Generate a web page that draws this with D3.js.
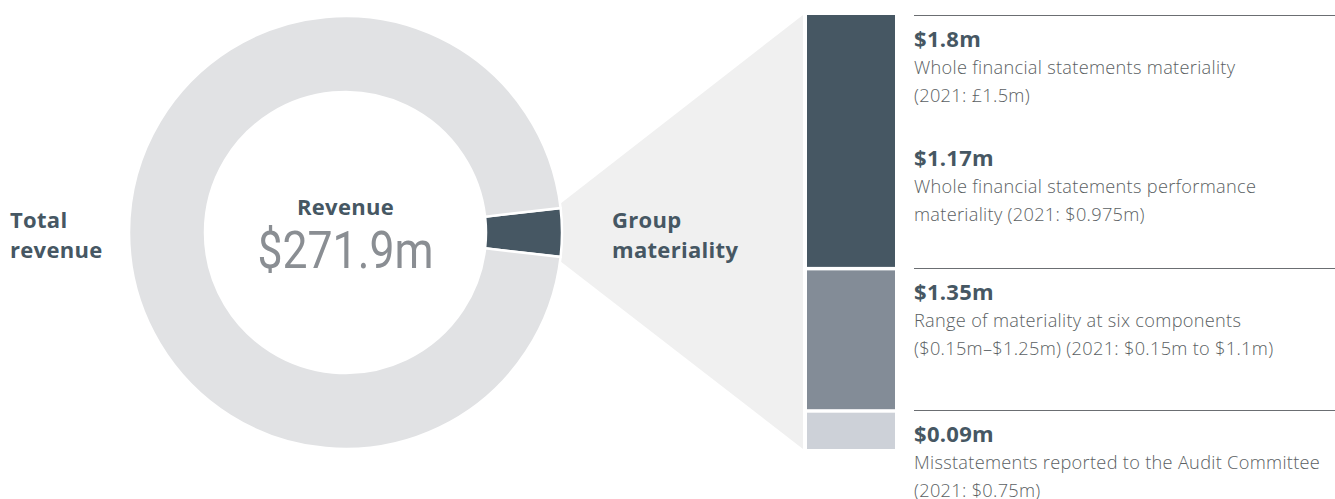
<!DOCTYPE html>
<html>
<head>
<meta charset="utf-8">
<script src="https://cdn.jsdelivr.net/npm/d3@7"></script>
<style>
  body { margin: 0; background: #fff; }
  svg { display: block; }
  .bold { font-family: "Open Sans", sans-serif; font-weight: 700; fill: #465763; letter-spacing: 0.3px; }
  .desc { font-family: "Open Sans", sans-serif; font-weight: 300; fill: #5b5f63; letter-spacing: 0.3px; }
  .big { font-family: "Roboto", sans-serif; font-weight: 400; fill: #8a8e93; }
</style>
</head>
<body>
<div id="chart"></div>
<script>
// ring: share of the circle drawn for each part
const ringParts = ['Group materiality', 'Rest of revenue'];
const ringShares = [3.6, 96.4];
const ringColors = ['#465763', '#e1e2e4'];

// stacked column on the right (heights as drawn)
const barParts = ['Group materiality', 'Component materiality', 'Misstatements'];
const barShares = [1.8, 1.01, 0.27];
const barColors = ['#465763', '#838c97', '#cdd1d8'];

const blockValues = ['$1.8m', '$1.17m', '$1.35m', '$0.09m'];
const blockLines = [
    ['Whole financial statements materiality', '(2021: £1.5m)'],
    ['Whole financial statements performance', 'materiality (2021: $0.975m)'],
    ['Range of materiality at six components', '($0.15m\u2013$1.25m) (2021: $0.15m to $1.1m)'],
    ['Misstatements reported to the Audit Committee', '(2021: $0.75m)']
];
// which bar top each block hangs from (block 2 has no rule of its own)
const blockBar = [0, null, 1, 2];

const W = 1335, H = 499;
const cx = 345.5, cy = 232.5, outerR = 216.5, innerR = 140.5;
const barX = 807, barW = 88, barTop = 15, barBottom = 449, barGap = 3.5;
const textX = 914;

const svg = d3.select('#chart').append('svg')
    .attr('width', W)
    .attr('height', H);

// pie so the materiality slice sits centred on the right
const total = d3.sum(ringShares);
const a0 = Math.PI / 2 - (ringShares[0] / total) * Math.PI;
const pie = d3.pie().sort(null).startAngle(a0).endAngle(a0 + 2 * Math.PI);
const arc = d3.arc().innerRadius(innerR).outerRadius(outerR);
const arcs = pie(ringShares);

// funnel from the slice to the column
const slice = arcs[0];
const spread = Math.tan((slice.endAngle - slice.startAngle) / 2) * outerR + 4;
svg.append('path')
    .attr('d', d3.line()([
        [cx + outerR - 2, cy - spread],
        [barX - 4, barTop],
        [barX - 4, barBottom],
        [cx + outerR - 2, cy + spread]
    ]))
    .attr('fill', '#f0f0f0');

const g = svg.append('g').attr('transform', `translate(${cx},${cy})`);
g.selectAll('path')
    .data(arcs)
    .enter().append('path')
        .attr('d', arc)
        .attr('fill', (d, i) => ringColors[i])
        .attr('stroke', '#fff')
        .attr('stroke-width', 2.5);

g.append('text')
    .attr('class', 'bold')
    .attr('text-anchor', 'middle')
    .attr('y', 215 - cy)
    .attr('font-size', 22)
    .text('Revenue');

g.append('text')
    .attr('class', 'big')
    .attr('text-anchor', 'middle')
    .attr('y', 268 - cy)
    .attr('font-size', 52)
    .attr('textLength', 176)
    .attr('lengthAdjust', 'spacingAndGlyphs')
    .text('$271.9m');

// side labels
[['Total', 'revenue', 10], ['Group', 'materiality', 612]].forEach(([l1, l2, x]) => {
    const t = svg.append('text').attr('class', 'bold').attr('font-size', 22);
    t.append('tspan').attr('x', x).attr('y', 228).text(l1);
    t.append('tspan').attr('x', x).attr('y', 258).text(l2);
});

// stacked column
const barTotal = d3.sum(barShares);
const y = d3.scaleLinear()
    .domain([0, barTotal])
    .range([barTop, barBottom]);
const stacks = d3.cumsum(barShares);
const bars = barShares.map((v, i) => ({ v, start: stacks[i] - v, end: stacks[i], i }));

svg.append('g')
    .selectAll('rect')
    .data(bars)
    .enter().append('rect')
        .attr('x', barX)
        .attr('width', barW)
        .attr('y', d => y(d.start) + (d.i ? barGap / 2 : 0))
        .attr('height', d => y(d.end) - y(d.start) - (d.i ? barGap / 2 : 0) - (d.i < bars.length - 1 ? barGap / 2 : 0))
        .attr('fill', d => barColors[d.i]);

// text blocks: rule sits just above each bar boundary
const blockTop = blockBar.map(b => b === null ? null : y(bars[b].start) - (b ? 1 : 0));
blockTop[1] = blockTop[0] + 119;

blockValues.forEach((val, i) => {
    const top = Math.round(blockTop[i]);
    if (blockBar[i] !== null) {
        svg.append('line')
            .attr('x1', textX)
            .attr('x2', W)
            .attr('y1', top + 0.5)
            .attr('y2', top + 0.5)
            .attr('stroke', '#6b6e72')
            .attr('stroke-width', 1);
    }
    svg.append('text')
        .attr('class', 'bold')
        .attr('x', textX)
        .attr('y', top + 32)
        .attr('font-size', 22)
        .text(val);
    const t = svg.append('text')
        .attr('class', 'desc')
        .attr('font-size', 18.2);
    blockLines[i].forEach((line, j) => {
        t.append('tspan')
            .attr('x', textX)
            .attr('y', top + 59 + j * 27.5)
            .text(line);
    });
});
</script>
</body>
</html>
